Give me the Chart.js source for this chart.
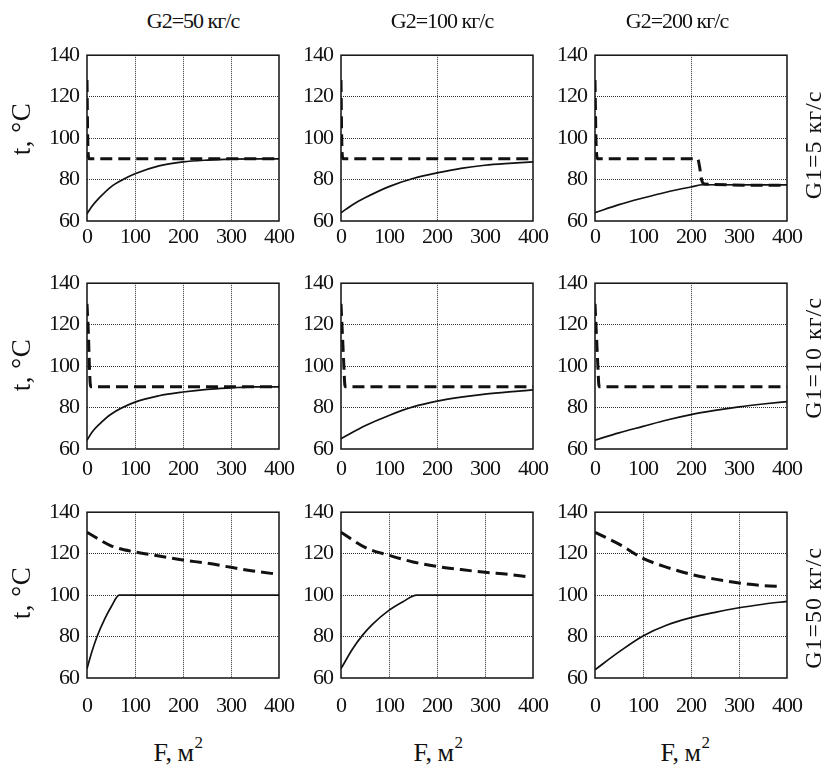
<!DOCTYPE html>
<html><head><meta charset="utf-8">
<script src="https://cdn.jsdelivr.net/npm/chart.js@4.4.1/dist/chart.umd.min.js"></script>
<style>
html,body{margin:0;padding:0;background:#fff;}
#wrap{position:relative;width:828px;height:769px;overflow:hidden;font-family:'Liberation Serif','Times New Roman',serif;color:#111;}
canvas{position:absolute;}
.lbl{position:absolute;white-space:nowrap;transform:translate(-50%,-50%);line-height:1;}
.rot{transform:translate(-50%,-50%) rotate(-90deg);}
</style></head>
<body><div id="wrap"></div>
<script>
// ---- labels ----
const colTitles = ['G2=50 кг/с', 'G2=100 кг/с', 'G2=200 кг/с'];
const rowTitles = ['G1=5 кг/с', 'G1=10 кг/с', 'G1=50 кг/с'];
const yLabel = 't, °C';
const xLabel = 'F, м';
const yTicks = [60, 80, 100, 120, 140];
const xTicks = [0, 100, 200, 300, 400];

// ---- data: G1=5 ----
const cold_5_50_F = [0, 10, 25, 50, 75, 100, 150, 200, 250, 300, 350, 400];
const cold_5_50_t = [63.5, 67, 71, 76.5, 80, 82.8, 86.6, 88.5, 89.4, 89.9, 90, 90];
const hot_5_50_F = [0, 1.5, 3, 5, 400];
const hot_5_50_t = [128, 100, 91, 90, 90];

const cold_5_100_F = [0, 25, 50, 100, 150, 200, 250, 300, 350, 400];
const cold_5_100_t = [64, 68, 71.2, 76.6, 80.5, 83.2, 85.4, 86.9, 87.8, 88.5];
const hot_5_100_F = [0, 1.5, 3, 5, 400];
const hot_5_100_t = [128, 100, 91, 90, 90];

const cold_5_200_F = [0, 50, 100, 150, 200, 225, 400];
const cold_5_200_t = [64, 67.9, 71.1, 74, 76.4, 77.5, 77.4];
const hot_5_200_F = [0, 2, 4, 6, 214, 218, 222, 228, 400];
const hot_5_200_t = [128, 100, 91, 90, 90, 86, 80, 77.8, 77.2];

// ---- data: G1=10 ----
const cold_10_50_F = [0, 10, 25, 50, 100, 150, 200, 250, 300, 350, 400];
const cold_10_50_t = [64.2, 68, 71.8, 76.8, 82.6, 85.7, 87.5, 88.8, 89.5, 90, 90];
const hot_10_50_F = [0, 3, 5, 7, 9, 400];
const hot_10_50_t = [130, 115, 100, 91, 90, 90];

const cold_10_100_F = [0, 50, 100, 150, 200, 250, 300, 350, 400];
const cold_10_100_t = [65, 71.2, 76.2, 80.3, 83.1, 85, 86.5, 87.6, 88.5];
const hot_10_100_F = [0, 3, 6, 8, 10, 400];
const hot_10_100_t = [130, 115, 100, 91, 90, 90];

const cold_10_200_F = [0, 50, 100, 150, 200, 250, 300, 350, 400];
const cold_10_200_t = [64.3, 67.8, 70.9, 74, 76.6, 78.6, 80.3, 81.7, 82.9];
const hot_10_200_F = [0, 3, 6, 8, 10, 400];
const hot_10_200_t = [130, 115, 100, 91, 90, 90];

// ---- data: G1=50 ----
const cold_50_50_F = [0, 10, 21, 37, 51, 67, 400];
const cold_50_50_t = [64.5, 72.5, 80, 88.5, 94.6, 100, 100];
const hot_50_50_F = [0, 50, 100, 150, 200, 250, 300, 350, 400];
const hot_50_50_t = [130.3, 123.8, 120.8, 118.9, 116.9, 115.4, 113.4, 111.5, 110];

const cold_50_100_F = [0, 24, 45, 66, 99, 129, 158, 400];
const cold_50_100_t = [64.5, 74, 80.7, 86, 92.5, 96.8, 100, 100];
const hot_50_100_F = [0, 50, 100, 150, 200, 250, 300, 350, 390];
const hot_50_100_t = [130.3, 123, 119.2, 116, 113.8, 112.3, 111, 110, 108.8];

const cold_50_200_F = [0, 50, 100, 150, 200, 250, 300, 350, 400];
const cold_50_200_t = [64, 72.6, 80.3, 85.6, 89.1, 91.7, 93.9, 95.6, 97.0];
const hot_50_200_F = [0, 50, 100, 150, 200, 250, 300, 350, 390];
const hot_50_200_t = [130.3, 124.6, 117.7, 113.4, 110, 107.7, 105.8, 104.6, 104.1];

const panels = [
  [[cold_5_50_F, cold_5_50_t, hot_5_50_F, hot_5_50_t], [cold_5_100_F, cold_5_100_t, hot_5_100_F, hot_5_100_t], [cold_5_200_F, cold_5_200_t, hot_5_200_F, hot_5_200_t]],
  [[cold_10_50_F, cold_10_50_t, hot_10_50_F, hot_10_50_t], [cold_10_100_F, cold_10_100_t, hot_10_100_F, hot_10_100_t], [cold_10_200_F, cold_10_200_t, hot_10_200_F, hot_10_200_t]],
  [[cold_50_50_F, cold_50_50_t, hot_50_50_F, hot_50_50_t], [cold_50_100_F, cold_50_100_t, hot_50_100_F, hot_50_100_t], [cold_50_200_F, cold_50_200_t, hot_50_200_F, hot_50_200_t]]
];
// which vertical grid lines are shown in each panel
const xGridShown = [
  [[100, 200, 300], [200], [200]],
  [[100, 200, 300], [200], [200]],
  [[100, 200, 300], [100, 200, 300], [100, 200, 300]]
];

// ---- layout ----
const plotLeft = [87, 341, 595];
const plotTop = [48, 276, 505];
const plotW = 192, plotH = 173;
const padL = 52, padT = 14, padR = 36, padB = 44;
const xTickPad = [3, 7, 15];
const FONT = "'Liberation Serif', 'Times New Roman', serif";

const wrap = document.getElementById('wrap');
const pts = (xs, ys) => xs.map((x, i) => ({x: x, y: ys[i]}));

const framePlugin = {
  id: 'frame',
  beforeDraw(chart) { chart.ctx.letterSpacing = '-1px'; },
  afterDraw(chart) {
    const a = chart.chartArea, c = chart.ctx;
    c.save();
    c.strokeStyle = '#111';
    c.lineWidth = 1.5;
    c.strokeRect(a.left, a.top, a.right - a.left, a.bottom - a.top);
    c.restore();
  }
};

for (let r = 0; r < 3; r++) {
  for (let c = 0; c < 3; c++) {
    const cv = document.createElement('canvas');
    const W = padL + plotW + padR, H = padT + plotH + padB;
    cv.width = W; cv.height = H;
    cv.style.left = (plotLeft[c] - padL) + 'px';
    cv.style.top = (plotTop[r] - padT) + 'px';
    cv.style.width = W + 'px'; cv.style.height = H + 'px';
    wrap.appendChild(cv);
    const [cF, cT, hF, hT] = panels[r][c];
    const shown = xGridShown[r][c];
    new Chart(cv, {
      type: 'line',
      data: {
        datasets: [
          {data: pts(cF, cT), borderColor: '#111', borderWidth: 1.7, pointRadius: 0, fill: false, cubicInterpolationMode: 'monotone'},
          {data: pts(hF, hT), borderColor: '#111', borderWidth: 3, borderDash: [12, 6], pointRadius: 0, fill: false, cubicInterpolationMode: 'monotone'}
        ]
      },
      options: {
        responsive: false, animation: false, events: [],
        layout: {padding: {top: padT, right: padR, left: 0, bottom: 0}},
        plugins: {legend: {display: false}, tooltip: {enabled: false}},
        scales: {
          x: {
            type: 'linear', min: 0, max: 400,
            afterBuildTicks: s => { s.ticks = xTicks.map(v => ({value: v})); },
            afterFit: s => { s.height = padB; },
            grid: {drawTicks: false, lineWidth: 1,
              color: ctx => (ctx.tick && shown.includes(ctx.tick.value)) ? '#333' : 'rgba(0,0,0,0)'},
            border: {display: false, dash: [1, 1]},
            ticks: {padding: xTickPad[r], color: '#111', maxRotation: 0, autoSkip: false,
              font: {family: FONT, size: 22}}
          },
          y: {
            type: 'linear', min: 60, max: 140,
            afterBuildTicks: s => { s.ticks = yTicks.map(v => ({value: v})); },
            afterFit: s => { s.width = padL; },
            grid: {drawTicks: false, lineWidth: 1,
              color: ctx => (ctx.tick && ctx.tick.value > 60 && ctx.tick.value < 140) ? '#333' : 'rgba(0,0,0,0)'},
            border: {display: false, dash: [1, 1]},
            ticks: {padding: 8, color: '#111', autoSkip: false,
              font: {family: FONT, size: 22}}
          }
        }
      },
      plugins: [framePlugin]
    });
  }
}

// ---- text labels ----
function addLabel(text, cx, cy, size, rot, ls, html) {
  const d = document.createElement('div');
  d.className = 'lbl' + (rot ? ' rot' : '');
  if (html) d.innerHTML = html; else d.textContent = text;
  d.style.left = cx + 'px'; d.style.top = cy + 'px';
  d.style.fontSize = size + 'px';
  d.style.letterSpacing = ls + 'px';
  wrap.appendChild(d);
}
const colTitleX = [193, 442, 677];
colTitles.forEach((t, i) => addLabel(t, colTitleX[i], 21, 22, false, -1));
const rowTitleY = [145, 358, 608];
rowTitles.forEach((t, i) => addLabel(t, 813, rowTitleY[i], 24, true, 1));
const yLabelY = [129, 365, 593];
yLabelY.forEach(y => addLabel(yLabel, 21, y, 27, true, 0.5));
const xLabelX = [178, 438, 685];
xLabelX.forEach(x => addLabel(xLabel, x, 750, 26, false, -0.5, xLabel + '<sup style="font-size:17px;vertical-align:0.75em;margin-left:1px">2</sup>'));
</script></body></html>
